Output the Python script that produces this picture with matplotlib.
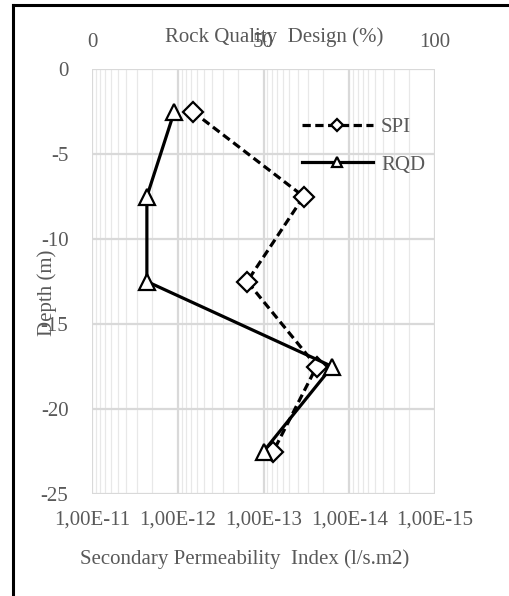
import numpy as np
import matplotlib
matplotlib.use("Agg")
import matplotlib.pyplot as plt
from matplotlib.lines import Line2D
from matplotlib.ticker import FixedLocator, NullFormatter

plt.rcParams["font.family"] = ["Liberation Serif", "DejaVu Serif"]

# data
depth = [-2.5, -7.5, -12.5, -17.5, -22.5]
spi = [6.7e-13, 3.4e-14, 1.55e-13, 2.4e-14, 7.7e-14]   # l/s.m2
rqd = [24, 16, 16, 70, 50]                             # %
spi_ticks = [1e-11, 1e-12, 1e-13, 1e-14, 1e-15]
spi_labels = ["1,00E-11", "1,00E-12", "1,00E-13", "1,00E-14", "1,00E-15"]
rqd_ticks = [0, 50, 100]
depth_ticks = [0, -5, -10, -15, -20, -25]

TXT = "#595959"
FS = 15
W, H = 509, 596

fig = plt.figure(figsize=(W / 100, H / 100), dpi=100)
ax = fig.add_axes([92 / W, 1 - 494 / H, (435 - 92) / W, (494 - 69) / H])

ax.set_xscale("log")
ax.set_xlim(1e-11, 1e-15)
ax.set_ylim(-25, 0)
ax.xaxis.set_major_locator(FixedLocator(spi_ticks))
ax.set_xticklabels(spi_labels)
ax.xaxis.set_minor_locator(FixedLocator(
    [m * 10.0 ** e for e in range(-15, -11) for m in range(2, 10)]))
ax.xaxis.set_minor_formatter(NullFormatter())
ax.set_yticks(depth_ticks)
ax.set_yticklabels([str(d) for d in depth_ticks])
ax.grid(True, which="major", color="#d9d9d9", lw=1.6)
ax.grid(True, which="minor", axis="x", color="#e8e8e8", lw=0.9)
ax.set_axisbelow(True)
for s in ax.spines.values():
    s.set_visible(False)
ax.tick_params(which="both", length=0, colors=TXT, labelsize=FS)
ax.tick_params(axis="x", pad=12)
ax.tick_params(axis="y", pad=17)

ax.plot(spi, depth, color="black", lw=2.3, ls=(0, (2.6, 1.4)), marker="D",
        ms=10, mfc="white", mec="black", mew=1.6, label="SPI", zorder=3)

ax2 = ax.twiny()
ax2.set_xlim(0, 100)
ax2.set_xticks(rqd_ticks)
ax2.tick_params(length=0, colors=TXT, labelsize=FS, pad=12)
for s in ax2.spines.values():
    s.set_visible(False)
ax2.plot(rqd, depth, color="black", lw=2.3, marker="^", ms=12,
         mfc="white", mec="black", mew=1.6, label="RQD", zorder=3)

fig.text(274 / W, 1 - 37 / H, "Rock Quality  Design (%)", ha="center",
         va="center", color=TXT, fontsize=FS)
fig.text(245 / W, 1 - 559 / H, "Secondary Permeability  Index (l/s.m2)",
         ha="center", va="center", color=TXT, fontsize=FS)
fig.text(47 / W, 1 - 293 / H, "Depth (m)", ha="center", va="center",
         rotation=90, color=TXT, fontsize=FS)

h1, l1 = ax.get_legend_handles_labels()
h2, l2 = ax2.get_legend_handles_labels()
leg = fig.legend(h1 + h2, l1 + l2, loc="upper left",
                 bbox_to_anchor=(283 / W, 1 - 99 / H), frameon=False,
                 fontsize=FS, handlelength=3.4, labelspacing=0.85,
                 handletextpad=0.4, markerscale=0.65)
for t in leg.get_texts():
    t.set_color(TXT)

# outer frame (top and left edges only, as in the crop)
fig.add_artist(Line2D([13 / W, 1], [1 - 5 / H, 1 - 5 / H], color="black", lw=2.2))
fig.add_artist(Line2D([13 / W, 13 / W], [0, 1 - 5 / H], color="black", lw=2.2))

fig.savefig("out.png", dpi=100)
